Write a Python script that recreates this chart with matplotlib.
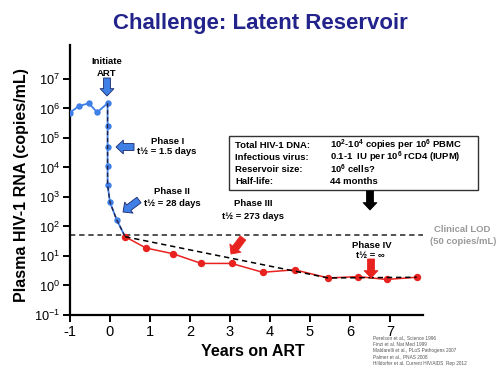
import matplotlib
matplotlib.use("Agg")
import matplotlib.pyplot as plt
from matplotlib.patches import Rectangle, FancyArrowPatch

plt.rcParams['font.family'] = ['Liberation Sans', 'DejaVu Sans']
plt.rcParams['mathtext.fontset'] = 'custom'
plt.rcParams['mathtext.rm'] = 'Liberation Sans'
plt.rcParams['mathtext.bf'] = 'Liberation Sans:bold'

# ---- data ----
pre_years = [-1.0, -0.78, -0.53, -0.32, -0.06]
pre_vl = [7.2e5, 1.2e6, 1.5e6, 7.4e5, 1.5e6]
decay_years = [-0.06, -0.06, -0.06, -0.06, -0.06, 0.0, 0.17]
decay_vl = [1.5e6, 2.6e5, 5.1e4, 1.15e4, 2.6e3, 6.6e2, 1.66e2]
red_years = [0.38, 0.90, 1.57, 2.28, 3.04, 3.82, 4.62, 5.46, 6.21, 6.92, 7.67]
red_vl = [45, 18.6, 12, 5.6, 5.6, 2.8, 3.4, 1.8, 2.0, 1.6, 1.9]
trend_years = [0.38, 5.46, 7.67]
trend_vl = [45, 1.8, 1.9]
lod = 50
x_ticks = [-1, 0, 1, 2, 3, 4, 5, 6, 7]
y_ticks = [1e-1, 1e0, 1e1, 1e2, 1e3, 1e4, 1e5, 1e6, 1e7]
box_keys = ["Total HIV-1 DNA:", "Infectious virus:", "Reservoir size:", "Half-life:"]
box_vals = [r"10$^{\mathbf{2}}$-10$^{\mathbf{4}}$ copies per 10$^{\mathbf{6}}$ PBMC",
            r"0.1-1  IU per 10$^{\mathbf{6}}$ rCD4 (IUPM)",
            r"10$^{\mathbf{6}}$ cells?",
            "44 months"]
citations = ["Perelson et al., Science 1996", "Finzi et al. Nat Med 1999",
             "Maldarelli et al., PLoS Pathogens 2007", "Palmer et al., PNAS 2008",
             "Hilldorfer et al. Current HIV/AIDS  Rep 2012"]

W, H = 500, 376
fig = plt.figure(figsize=(5.0, 3.76), dpi=100)
fig.patch.set_facecolor('white')

def P(x, y):
    return (x / W, 1 - y / H)

ax = fig.add_axes([70 / W, 1 - 315 / H, (423 - 70) / W, (315 - 45) / H])
ax.set_yscale('log')
ax.set_xlim(-1, 7.83)
ax.set_ylim(1e-1, 10 ** 8.15)

blue = '#3f7fe6'
red = '#e8231f'

ax.plot(pre_years + decay_years[1:] + [red_years[0]],
        pre_vl + decay_vl[1:] + [red_vl[0]], color=blue, lw=1.3, zorder=3)
ax.plot(pre_years + decay_years[1:], pre_vl + decay_vl[1:], 'o', color=blue,
        ms=3.6, zorder=4)
ax.plot(decay_years + [red_years[0]], decay_vl + [red_vl[0]], color='#222244',
        lw=1.0, ls=(0, (3, 2)), zorder=5)
ax.plot(red_years, red_vl, '-o', color=red, lw=1.1, ms=4.3, zorder=3)
ax.plot(trend_years, trend_vl, color='black', lw=1.1, ls=(0, (3.5, 2.5)), zorder=4)
ax.axhline(lod, color='#222222', lw=1.1, ls=(0, (3.5, 2.5)), zorder=2)

for s in ['top', 'right']:
    ax.spines[s].set_visible(False)
for s in ['left', 'bottom']:
    ax.spines[s].set_linewidth(1.6)
ax.set_xticks(x_ticks)
ax.set_xticklabels([str(t) for t in x_ticks])
ax.set_yticks(y_ticks)
ax.minorticks_off()
ax.tick_params(axis='both', direction='out', length=5, width=1.4, pad=2)
ax.tick_params(axis='x', labelsize=10.5)
ax.tick_params(axis='y', labelsize=9.2)

# labels
fig.text(*P(253, 352), "Years on ART", ha='center', va='center', fontsize=11.5,
         fontweight='bold')
fig.text(*P(22, 185), "Plasma HIV-1 RNA (copies/mL)", ha='center', va='center',
         fontsize=11.5, fontweight='bold', rotation=90)
fig.text(*P(260, 23), "Challenge: Latent Reservoir", ha='center', va='center',
         fontsize=16, fontweight='bold', color='#23238c')

def txt(x, y, s, **kw):
    kw.setdefault('fontsize', 6.8)
    kw.setdefault('fontweight', 'bold')
    fig.text(*P(x, y), s, ha='center', va='center', **kw)

txt(107, 62, "Initiate")
txt(107, 73, "ART")
txt(168, 141, "Phase I")
txt(167, 152, "t½ = 1.5 days")
txt(172, 192, "Phase II")
txt(172, 203, "t½ = 28 days")
txt(253, 204, "Phase III")
txt(253, 216, "t½ = 273 days")
txt(372, 246, "Phase IV")
txt(370, 256, "t½ = ∞")
txt(462, 230, "Clinical LOD", color='#999999')
txt(463, 241, "(50 copies/mL)", color='#999999')

# arrows
def arrow(x0, y0, x1, y1, color, ec):
    fig.add_artist(FancyArrowPatch(
        P(x0, y0), P(x1, y1), transform=fig.transFigure,
        arrowstyle='simple,head_length=0.85,head_width=1.6,tail_width=0.8',
        mutation_scale=6.2, shrinkA=0, shrinkB=0, fc=color, ec=ec,
        lw=0.6, zorder=10))

arrow(107, 78, 107, 96, blue, '#1a2a6a')
arrow(134, 147, 116, 147, blue, '#1a2a6a')
arrow(139, 200, 123, 212, blue, '#1a2a6a')
arrow(243, 238, 231, 254, red, red)
arrow(371, 259, 371, 278, red, red)
arrow(370, 191, 370, 210, 'black', 'black')

# box
fig.add_artist(Rectangle(P(229, 190), 249 / W, 54 / H, transform=fig.transFigure,
                         fill=False, ec='#333333', lw=1.0))
for i, (k, v) in enumerate(zip(box_keys, box_vals)):
    y = 145 + 12 * i
    fig.text(*P(235, y), k, ha='left', va='center', fontsize=6.8, fontweight='bold')
    fig.text(*P(330, y), v, ha='left', va='center', fontsize=6.8, fontweight='bold')

for i, c in enumerate(citations):
    fig.text(*P(373, 338 + 6.4 * i), c, ha='left', va='center', fontsize=3.4,
             color='#555555')

fig.savefig('out.png', dpi=100)
